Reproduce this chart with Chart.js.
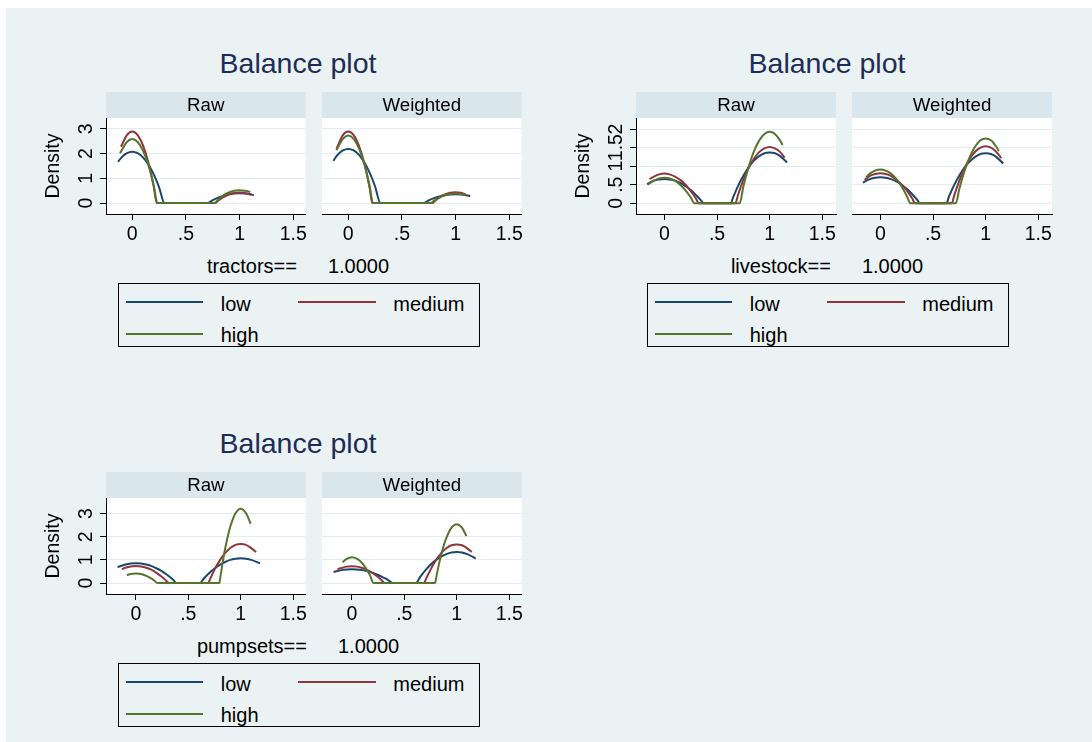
<!DOCTYPE html>
<html><head><meta charset="utf-8">
<script src="https://cdn.jsdelivr.net/npm/chart.js@4/dist/chart.umd.min.js"></script>
<style>
html,body{margin:0;padding:0;background:#fff;width:1092px;height:742px;overflow:hidden;font-family:'Liberation Sans',Arial,sans-serif;}
#bg{position:absolute;left:6px;top:8px;width:1086px;height:734px;background:#EAF2F3;}
canvas{position:absolute;}
.title{position:absolute;width:400px;text-align:center;font-size:28.5px;line-height:32px;color:#1e2d57;white-space:nowrap;}
.cap{position:absolute;width:400px;text-align:center;font-size:20px;line-height:23px;color:#000;white-space:nowrap;}
.cap .v{margin-left:31px;}
.leg{position:absolute;width:362px;height:64px;border:1px solid #000;box-sizing:border-box;}
.leg .ln{position:absolute;height:2px;}
.leg .tx{position:absolute;font-size:20px;line-height:23px;color:#000;white-space:nowrap;}
</style></head>
<body>
<div id="bg"></div>

<div class="title" style="left:98px;top:47.4px">Balance plot</div>
<div class="title" style="left:627px;top:47.4px">Balance plot</div>
<div class="title" style="left:98px;top:427.4px">Balance plot</div>

<canvas id="c1" width="280" height="162" style="left:30px;top:88px"></canvas>
<canvas id="c2" width="204" height="162" style="left:322px;top:88px"></canvas>
<canvas id="c3" width="280" height="162" style="left:560px;top:88px"></canvas>
<canvas id="c4" width="204" height="162" style="left:852px;top:88px"></canvas>
<canvas id="c5" width="280" height="162" style="left:30px;top:468px"></canvas>
<canvas id="c6" width="204" height="162" style="left:322px;top:468px"></canvas>

<div class="cap" style="left:98px;top:254.9px"><span>tractors==</span><span class="v">1.0000</span></div>
<div class="cap" style="left:627px;top:254.9px"><span>livestock==</span><span class="v">1.0000</span></div>
<div class="cap" style="left:98px;top:634.9px"><span>pumpsets==</span><span class="v">1.0000</span></div>

<div class="leg" id="leg1" style="left:118px;top:283px"></div>
<div class="leg" id="leg2" style="left:647px;top:283px"></div>
<div class="leg" id="leg3" style="left:118px;top:663px"></div>

<script>
// ---------- data ----------
const seriesNames = ['low', 'medium', 'high'];
const seriesColors = ['#1A476F', '#90353B', '#55752F'];
const xTicks = [0, 0.5, 1, 1.5];
const xTickLabels = ['0', '.5', '1', '1.5'];
const tracYTicks = [0, 1, 2, 3];
const tracYLabels = ['0', '1', '2', '3'];
const liveYTicks = [0, 0.5, 1, 1.5, 2];
const liveYLabels = ['0', '.5', '1', '1.5', '2'];
const pumpYTicks = [0, 1, 2, 3];
const pumpYLabels = ['0', '1', '2', '3'];

// tractors - Raw
const tracRawLowX = [-0.133,-0.1,-0.05,0,0.05,0.1,0.15,0.2,0.25,0.3,0.7,0.75,0.8,0.85,0.9,0.95,1,1.05,1.1,1.133];
const tracRawLowY = [1.67,1.85,2.02,2.08,2.02,1.85,1.56,1.16,0.64,0,0,0.12,0.22,0.30,0.36,0.39,0.40,0.39,0.36,0.32];
const tracRawMedX = [-0.105,-0.05,0,0.05,0.1,0.15,0.2,0.228,0.772,0.8,0.85,0.9,0.95,1,1.05,1.105];
const tracRawMedY = [2.28,2.75,2.89,2.75,2.33,1.64,0.67,0,0,0.10,0.24,0.35,0.41,0.43,0.41,0.34];
const tracRawHighX = [-0.115,-0.05,0,0.05,0.1,0.15,0.2,0.235,0.765,0.8,0.85,0.9,0.95,1,1.05,1.1];
const tracRawHighY = [2.02,2.47,2.59,2.47,2.12,1.54,0.71,0,0,0.14,0.31,0.43,0.50,0.52,0.50,0.45];
// tractors - Weighted
const tracWtdLowX = [-0.14,-0.1,-0.05,0,0.05,0.1,0.15,0.2,0.25,0.3,0.7,0.75,0.8,0.85,0.9,0.95,1,1.05,1.1,1.136];
const tracWtdLowY = [1.71,1.95,2.13,2.19,2.13,1.95,1.64,1.22,0.67,0,0,0.11,0.20,0.27,0.32,0.35,0.36,0.35,0.32,0.28];
const tracWtdMedX = [-0.11,-0.05,0,0.05,0.1,0.15,0.2,0.224,0.784,0.8,0.85,0.9,0.95,1,1.05,1.095];
const tracWtdMedY = [2.19,2.75,2.89,2.75,2.31,1.60,0.59,0,0,0.06,0.23,0.35,0.42,0.44,0.42,0.35];
const tracWtdHighX = [-0.11,-0.05,0,0.05,0.1,0.15,0.2,0.23,0.77,0.8,0.85,0.9,0.95,1,1.05,1.1];
const tracWtdHighY = [2.14,2.60,2.73,2.60,2.21,1.57,0.67,0,0,0.10,0.22,0.32,0.37,0.39,0.37,0.31];

// livestock - Raw
const liveRawLowX = [-0.165,-0.1,-0.05,0,0.05,0.1,0.15,0.2,0.25,0.3,0.35,0.37,0.63,0.65,0.7,0.75,0.8,0.85,0.9,0.95,1,1.05,1.1,1.165];
const liveRawLowY = [0.52,0.61,0.64,0.655,0.64,0.61,0.55,0.46,0.36,0.22,0.07,0,0,0.14,0.47,0.74,0.97,1.15,1.27,1.35,1.37,1.35,1.27,1.10];
const liveRawMedX = [-0.142,-0.1,-0.05,0,0.05,0.1,0.15,0.2,0.25,0.3,0.326,0.674,0.7,0.75,0.8,0.85,0.9,0.95,1,1.05,1.1,1.142];
const liveRawMedY = [0.65,0.72,0.78,0.80,0.78,0.72,0.63,0.50,0.33,0.12,0,0,0.23,0.63,0.95,1.20,1.38,1.48,1.52,1.48,1.38,1.23];
const liveRawHighX = [-0.158,-0.1,-0.05,0,0.05,0.1,0.15,0.2,0.25,0.285,0.715,0.75,0.8,0.85,0.9,0.95,1,1.05,1.1,1.123];
const liveRawHighY = [0.50,0.61,0.67,0.69,0.67,0.61,0.50,0.35,0.16,0,0,0.45,0.98,1.40,1.69,1.87,1.93,1.87,1.69,1.57];
// livestock - Weighted
const liveWtdLowX = [-0.167,-0.1,-0.05,0,0.05,0.1,0.15,0.2,0.25,0.3,0.35,0.375,0.628,0.65,0.7,0.75,0.8,0.85,0.9,0.95,1,1.05,1.1,1.167];
const liveWtdLowY = [0.56,0.65,0.69,0.70,0.69,0.65,0.59,0.50,0.39,0.25,0.09,0,0,0.17,0.49,0.75,0.97,1.13,1.25,1.33,1.35,1.33,1.25,1.07];
const liveWtdMedX = [-0.15,-0.1,-0.05,0,0.05,0.1,0.15,0.2,0.25,0.3,0.33,0.678,0.7,0.75,0.8,0.85,0.9,0.95,1,1.05,1.1,1.148];
const liveWtdMedY = [0.63,0.74,0.79,0.81,0.79,0.74,0.64,0.51,0.35,0.14,0,0,0.20,0.61,0.95,1.21,1.39,1.50,1.54,1.50,1.39,1.22];
const liveWtdHighX = [-0.136,-0.1,-0.05,0,0.05,0.1,0.15,0.2,0.25,0.284,0.716,0.75,0.8,0.85,0.9,0.95,1,1.05,1.1,1.126];
const liveWtdHighY = [0.70,0.80,0.88,0.91,0.88,0.80,0.66,0.46,0.20,0,0,0.39,0.88,1.26,1.53,1.70,1.75,1.70,1.53,1.41];

// pumpsets - Raw
const pumpRawLowX = [-0.175,-0.1,-0.05,0,0.05,0.1,0.15,0.2,0.25,0.3,0.35,0.39,0.61,0.65,0.7,0.75,0.8,0.85,0.9,0.95,1,1.05,1.1,1.184];
const pumpRawLowY = [0.69,0.80,0.85,0.86,0.85,0.80,0.73,0.63,0.51,0.35,0.17,0,0,0.21,0.44,0.63,0.79,0.91,1.00,1.05,1.07,1.05,1.00,0.85];
const pumpRawMedX = [-0.133,-0.1,-0.05,0,0.05,0.1,0.15,0.2,0.25,0.3,0.31,0.692,0.7,0.75,0.8,0.85,0.9,0.95,1,1.05,1.1,1.146];
const pumpRawMedY = [0.60,0.66,0.72,0.74,0.72,0.66,0.57,0.43,0.26,0.05,0,0,0.09,0.58,0.98,1.29,1.51,1.65,1.69,1.65,1.51,1.34];
const pumpRawHighX = [-0.086,-0.05,0,0.05,0.1,0.15,0.175,0.206,0.797,0.8,0.825,0.85,0.875,0.9,0.95,1,1.05,1.095];
const pumpRawHighY = [0.34,0.39,0.41,0.39,0.31,0.19,0.11,0,0,0.09,0.82,1.46,1.99,2.43,3.01,3.21,3.01,2.56];
// pumpsets - Weighted
const pumpWtdLowX = [-0.175,-0.1,-0.05,0,0.05,0.1,0.15,0.2,0.25,0.3,0.35,0.39,0.61,0.65,0.7,0.75,0.8,0.85,0.9,0.95,1,1.05,1.1,1.181];
const pumpWtdLowY = [0.48,0.56,0.59,0.60,0.59,0.56,0.51,0.44,0.35,0.24,0.12,0,0,0.26,0.55,0.79,0.99,1.14,1.25,1.32,1.34,1.32,1.25,1.06];
const pumpWtdMedX = [-0.137,-0.1,-0.05,0,0.05,0.1,0.15,0.2,0.25,0.3,0.31,0.69,0.7,0.75,0.8,0.85,0.9,0.95,1,1.05,1.1,1.143];
const pumpWtdMedY = [0.60,0.65,0.71,0.73,0.71,0.65,0.56,0.43,0.26,0.05,0,0,0.11,0.58,0.98,1.28,1.50,1.63,1.67,1.63,1.50,1.34];
const pumpWtdHighX = [-0.089,-0.05,0,0.05,0.1,0.15,0.175,0.206,0.794,0.8,0.825,0.85,0.875,0.9,0.95,1,1.05,1.092];
const pumpWtdHighY = [0.90,1.04,1.11,1.04,0.85,0.52,0.31,0,0,0.14,0.71,1.19,1.61,1.94,2.39,2.54,2.39,2.03];

// ---------- rendering ----------
const FONT = "'Liberation Sans', Arial, sans-serif";
Chart.defaults.font.family = FONT;
Chart.defaults.color = '#000';

const stripPlugin = {
  id: 'strip',
  beforeDraw(chart, args, opts) {
    const {ctx, chartArea: a} = chart;
    ctx.save();
    ctx.fillStyle = '#ffffff';
    ctx.fillRect(a.left, a.top, a.right - a.left, a.bottom - a.top);
    ctx.fillStyle = '#D9E6EB';
    ctx.fillRect(a.left, a.top - 26, a.right - a.left, 26);
    ctx.fillStyle = '#000';
    ctx.font = '18.7px ' + FONT;
    ctx.textAlign = 'center';
    ctx.textBaseline = 'alphabetic';
    ctx.fillText(opts.text, (a.left + a.right) / 2, a.top - 26 + 18.7);
    ctx.restore();
  }
};

function makeChart(id, cfg) {
  const isRaw = cfg.raw;
  const tickFont = {size: 19.5, family: FONT};
  const datasets = cfg.series.map((s, i) => ({
    label: seriesNames[i],
    data: s[0].map((x, j) => ({x: x, y: s[1][j]})),
    borderColor: seriesColors[i],
    backgroundColor: seriesColors[i],
    borderWidth: 2,
    pointRadius: 0,
    fill: false,
    cubicInterpolationMode: 'monotone',
    order: 3 - i
  }));
  return new Chart(document.getElementById(id), {
    type: 'line',
    data: {datasets},
    plugins: [stripPlugin],
    options: {
      responsive: false, animation: false, devicePixelRatio: 1,
      layout: {padding: {top: 30, right: 4, left: 0, bottom: 0}},
      plugins: {legend: {display: false}, tooltip: {enabled: false}, strip: {text: cfg.strip}},
      scales: {
        x: {
          type: 'linear', min: cfg.xmin, max: cfg.xmax,
          afterBuildTicks: s => { s.ticks = xTicks.map(v => ({value: v})); },
          afterFit: s => { s.height = 36; },
          ticks: {autoSkip: false, maxRotation: 0, minRotation: 0, padding: 3, color: '#000', font: tickFont,
                  callback: (v, i) => xTickLabels[i]},
          grid: {drawOnChartArea: false, drawTicks: true, tickLength: 6, tickColor: '#000', tickWidth: 1},
          border: {display: true, color: '#000', width: 1}
        },
        y: {
          type: 'linear', min: cfg.ymin, max: cfg.ymax,
          afterBuildTicks: s => { s.ticks = cfg.yTicks.map(v => ({value: v})); },
          afterFit: s => { s.width = isRaw ? 76 : 0; },
          ticks: {display: isRaw, autoSkip: false, minRotation: 90, maxRotation: 90, crossAlign: 'center',
                  padding: cfg.ypad, color: '#000', font: tickFont, callback: (v, i) => cfg.yLabels[i]},
          grid: {color: '#E3ECEE', lineWidth: 1, drawTicks: isRaw, tickLength: 6, tickColor: '#000', tickWidth: 1},
          border: {display: isRaw, color: '#000', width: 1},
          title: {display: isRaw, text: 'Density', color: '#000', font: {size: 19.5, family: FONT},
                  padding: {top: 11.6, bottom: 0}}
        }
      }
    }
  });
}

const trac = {xmin: -0.245, xmax: 1.615, ymin: -0.44, ymax: 3.44, yTicks: tracYTicks, yLabels: tracYLabels, ypad: 7.9};
const live = {xmin: -0.27, xmax: 1.63, ymin: -0.29, ymax: 2.30, yTicks: liveYTicks, yLabels: liveYLabels, ypad: -0.3};
const pump = {xmin: -0.285, xmax: 1.62, ymin: -0.47, ymax: 3.67, yTicks: pumpYTicks, yLabels: pumpYLabels, ypad: 7.9};

makeChart('c1', Object.assign({}, trac, {raw: true, strip: 'Raw',
  series: [[tracRawLowX, tracRawLowY], [tracRawMedX, tracRawMedY], [tracRawHighX, tracRawHighY]]}));
makeChart('c2', Object.assign({}, trac, {raw: false, strip: 'Weighted',
  series: [[tracWtdLowX, tracWtdLowY], [tracWtdMedX, tracWtdMedY], [tracWtdHighX, tracWtdHighY]]}));
makeChart('c3', Object.assign({}, live, {raw: true, strip: 'Raw',
  series: [[liveRawLowX, liveRawLowY], [liveRawMedX, liveRawMedY], [liveRawHighX, liveRawHighY]]}));
makeChart('c4', Object.assign({}, live, {raw: false, strip: 'Weighted',
  series: [[liveWtdLowX, liveWtdLowY], [liveWtdMedX, liveWtdMedY], [liveWtdHighX, liveWtdHighY]]}));
makeChart('c5', Object.assign({}, pump, {raw: true, strip: 'Raw',
  series: [[pumpRawLowX, pumpRawLowY], [pumpRawMedX, pumpRawMedY], [pumpRawHighX, pumpRawHighY]]}));
makeChart('c6', Object.assign({}, pump, {raw: false, strip: 'Weighted',
  series: [[pumpWtdLowX, pumpWtdLowY], [pumpWtdMedX, pumpWtdMedY], [pumpWtdHighX, pumpWtdHighY]]}));

// legends (HTML, built from the series names/colours)
function buildLegend(id) {
  const box = document.getElementById(id);
  const slots = [
    {line: [7, 17, 77], text: [101.7, 8.6]},
    {line: [179, 17, 78], text: [274.3, 8.6]},
    {line: [7, 49, 77], text: [101.7, 40.1]}
  ];
  seriesNames.forEach((name, i) => {
    const s = slots[i];
    const ln = document.createElement('div');
    ln.className = 'ln';
    ln.style.left = s.line[0] + 'px'; ln.style.top = s.line[1] + 'px'; ln.style.width = s.line[2] + 'px';
    ln.style.background = seriesColors[i];
    box.appendChild(ln);
    const tx = document.createElement('div');
    tx.className = 'tx';
    tx.style.left = s.text[0] + 'px'; tx.style.top = s.text[1] + 'px';
    tx.textContent = name;
    box.appendChild(tx);
  });
}
buildLegend('leg1'); buildLegend('leg2'); buildLegend('leg3');
</script>
</body></html>
